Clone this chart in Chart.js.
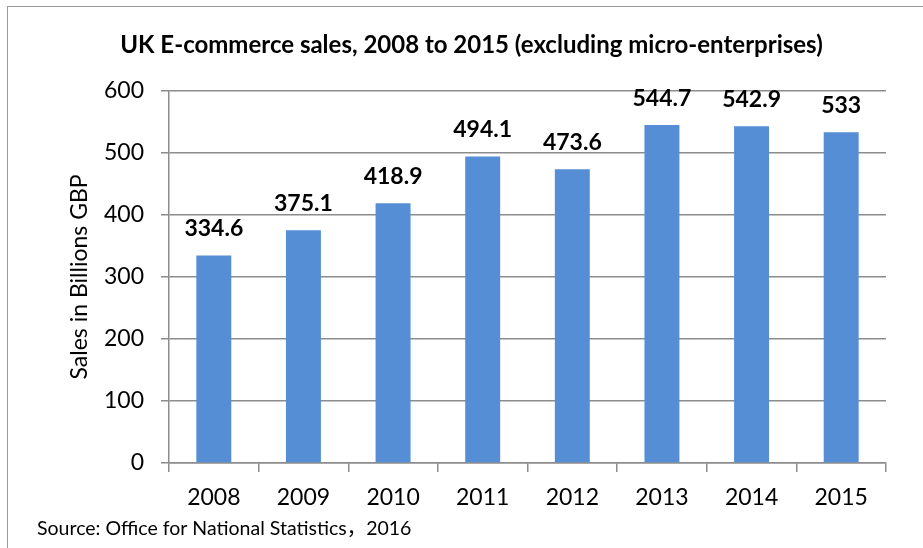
<!DOCTYPE html>
<html>
<head>
<meta charset="utf-8">
<title>UK E-commerce sales</title>
<script src="https://cdn.jsdelivr.net/npm/chart.js@4.4.1/dist/chart.umd.min.js"></script>
<style>
  body { margin: 0; background: #fff; }
  #wrap { width: 923px; height: 548px; }
</style>
</head>
<body>
<div id="wrap"><canvas id="chart" width="923" height="548"></canvas></div>
<script>
const years = ['2008', '2009', '2010', '2011', '2012', '2013', '2014', '2015']
const sales = [334.6, 375.1, 418.9, 494.1, 473.6, 544.7, 542.9, 533]
const yTicks = [0, 100, 200, 300, 400, 500, 600]
const sourceNote = 'Source: Office for National Statistics，2016'

const fontFamily = "Lato, 'Noto Sans CJK SC', sans-serif"
const gridColor = '#8c8c8c'

// outer border of the chart box + the source line under the axis
const frameAndSource = {
  id: 'frameAndSource',
  afterDraw(chart) {
    let ctx = chart.ctx
    ctx.save()
    ctx.strokeStyle = '#9a9a9a'
    ctx.lineWidth = 1
    ctx.strokeRect(7.5, 6.5, 1000, 1000)
    ctx.fillStyle = '#000'
    ctx.font = '19.5px ' + fontFamily
    ctx.textAlign = 'left'
    ctx.textBaseline = 'alphabetic'
    ctx.fillText(sourceNote, 37, 535)
    ctx.restore()
  }
}

// value written above each bar
const barValues = {
  id: 'barValues',
  afterDatasetsDraw(chart) {
    let ctx = chart.ctx
    let meta = chart.getDatasetMeta(0)
    ctx.save()
    ctx.fillStyle = '#000'
    ctx.font = 'bold 23px ' + fontFamily
    ctx.textAlign = 'center'
    ctx.textBaseline = 'alphabetic'
    meta.data.forEach((bar, i) => {
      ctx.fillText(String(sales[i]), bar.x, bar.y - 19)
    })
    ctx.restore()
  }
}

let ctx = document.getElementById('chart').getContext('2d')

let salesChart = new Chart(ctx, {
  type: 'bar',
  data: {
    labels: years,
    datasets: [{
      label: 'Sales',
      data: sales,
      backgroundColor: '#558ed5',
      borderWidth: 0,
      barPercentage: 0.39,
      categoryPercentage: 1
    }]
  },
  options: {
    responsive: false,
    animation: false,
    layout: {
      padding: { left: 57, right: 37, top: 0, bottom: 0 }
    },
    plugins: {
      legend: { display: false },
      tooltip: { enabled: false },
      title: {
        display: true,
        text: 'UK E-commerce sales, 2008 to 2015 (excluding micro-enterprises)',
        color: '#000',
        font: { family: fontFamily, size: 24, weight: 'bold' },
        padding: { top: 31, bottom: 31 }
      }
    },
    scales: {
      x: {
        grid: {
          drawOnChartArea: false,
          drawTicks: true,
          tickLength: 9,
          color: gridColor,
          lineWidth: 1.5
        },
        border: { color: gridColor, width: 1.5 },
        ticks: {
          color: '#000',
          padding: 12,
          font: { family: fontFamily, size: 23 }
        },
        afterFit(scale) { scale.height = 85 }
      },
      y: {
        min: yTicks[0],
        max: yTicks[yTicks.length - 1],
        afterBuildTicks(scale) {
          scale.ticks = yTicks.map(v => ({ value: v }))
        },
        grid: {
          color: gridColor,
          lineWidth: 1.5,
          tickLength: 8
        },
        border: { color: gridColor, width: 1.5 },
        ticks: {
          color: '#000',
          padding: 17,
          font: { family: fontFamily, size: 23 }
        },
        title: {
          display: true,
          text: 'Sales in Billions GBP',
          color: '#000',
          font: { family: fontFamily, size: 23 },
          padding: { top: 9, bottom: 0 }
        },
        afterFit(scale) { scale.width = 112 }
      }
    }
  },
  plugins: [barValues, frameAndSource]
})
</script>
</body>
</html>
